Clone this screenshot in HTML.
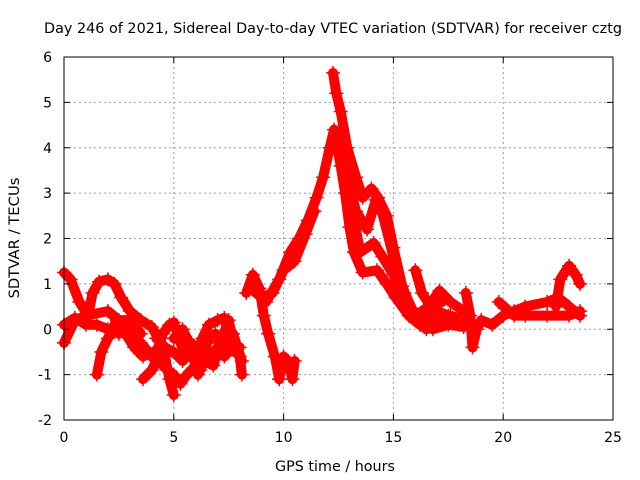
<!DOCTYPE html>
<html><head><meta charset="utf-8"><style>
body{margin:0;background:#fff}
svg{display:block;font-family:"DejaVu Sans","Liberation Sans",sans-serif;font-size:14px}
</style></head><body>
<svg id="chart" width="640" height="480">
<rect width="640" height="480" fill="#fff"/>
<g id="grid"></g>
<g id="marks"></g>
<g id="axes"></g>
<text x="333" y="33" text-anchor="middle" textLength="578" lengthAdjust="spacingAndGlyphs">Day 246 of 2021, Sidereal Day-to-day VTEC variation (SDTVAR) for receiver cztg</text>
<text x="335" y="471" text-anchor="middle" textLength="120" lengthAdjust="spacingAndGlyphs">GPS time / hours</text>
<text x="19" y="238" text-anchor="middle" textLength="121" lengthAdjust="spacingAndGlyphs" transform="rotate(-90 19 238)">SDTVAR / TECUs</text>
</svg>
<script>
const xTicks=[0,5,10,15,20,25];
const yTicks=[-2,-1,0,1,2,3,4,5,6];
const traceA=[[0,1.25],[0.3,1.1],[0.7,0.6],[1.1,0.3],[1.3,0.8],[1.6,1.05],[2,1.1],[2.3,1.0],[2.6,0.7],[3,0.4],[3.5,0.2],[4,0.05],[4.3,-0.2],[4.6,-0.6],[4.8,-1.1],[5,-1.45]];
const traceB=[[0,0.1],[0.5,0.25],[1,0.1],[1.5,0.1],[2,0.0],[2.5,-0.1],[3,0.05],[3.3,-0.3],[3.6,-0.5],[4,-0.6],[4.5,-0.8]];
const traceC=[[0,-0.3],[0.5,0.2],[1,0.3],[2,0.4],[2.5,0.2],[3,0.2],[3.5,-0.1]];
const traceD=[[1.5,-1.0],[1.7,-0.5],[2,-0.2],[2.4,0.2],[2.8,-0.1],[3.2,-0.4],[3.6,-0.6]];
const traceE=[[3.5,-0.3],[4,-0.6],[4.3,-0.4],[4.5,-0.1],[4.8,0.1],[5,0.15],[5.3,-0.3],[5.6,-0.6],[6,-0.6],[6.3,-0.2],[6.6,0.1],[7,0.2],[7.3,0.25],[7.6,-0.3],[8,-0.6],[8.1,-1.0]];
const traceF=[[3.6,-1.1],[4,-0.9],[4.4,-0.5],[4.7,-0.9],[5,-1.0],[5.3,-1.2],[5.6,-1.0],[6,-0.8],[6.3,-0.5],[6.6,-0.6],[7,-0.4],[7.5,-0.5],[8,-0.4]];
const traceF2=[[4.2,-0.2],[4.6,-0.4],[5,-0.5],[5.4,-0.7],[5.8,-0.3],[6.2,-0.9],[6.5,-0.3],[6.9,-0.1],[7.3,-0.6],[7.7,-0.1],[8.1,-0.7]];
const traceF3=[[5.0,-0.2],[5.4,0.0],[5.7,-0.3],[6.1,-1.0],[6.4,-0.7],[6.8,-0.8],[7.2,-0.2],[7.5,0.2],[7.8,-0.5]];
const traceG=[[8.3,0.8],[8.6,1.2],[8.9,0.9],[9.1,0.3],[9.3,-0.1],[9.6,-0.6],[9.8,-1.1]];
const traceH=[[9.8,-1.1],[10,-0.6],[10.2,-0.7],[10.4,-1.1],[10.5,-0.7]];
const traceI=[[9.2,0.6],[9.8,1.1],[10.3,1.7],[10.7,2.0],[11.1,2.4],[11.5,2.9],[11.8,3.35],[12.1,4.0],[12.3,4.4],[12.6,3.6],[12.8,3.0],[13.0,2.25],[13.2,1.7],[13.6,1.25],[14.25,1.3],[14.7,1.0],[15.1,0.7],[15.7,0.3],[16.2,0.1],[16.8,0.0],[17.5,0.1],[18.2,0.05]];
const traceI2=[[8.5,0.9],[9.0,0.7],[9.5,0.8],[10.0,1.3],[10.5,1.5],[11,2.1],[11.4,2.6]];
const traceJ=[[12.25,5.65],[12.4,5.2],[12.6,4.8],[12.9,4.0],[13.3,3.35],[13.6,2.9],[14.0,3.1],[14.3,2.9],[14.7,2.5],[15.0,1.8],[15.4,0.95],[15.9,0.35],[16.3,0.2],[17,0.4],[17.5,0.3],[18,0.1],[18.5,0.1]];
const traceK=[[12.5,3.9],[12.9,3.2],[13.2,2.4],[13.5,1.7],[14.1,1.9],[14.5,1.6],[15,1.2],[15.5,0.6],[16,0.2],[16.5,0.0],[17,0.15],[17.6,0.3],[18.2,0.2]];
const traceL=[[12.8,3.5],[13.3,2.6],[13.8,2.2],[14.2,2.85],[14.5,2.55],[15,1.6],[15.5,0.8],[16,0.3],[16.6,0.5],[17.1,0.85],[17.6,0.6],[18.2,0.4]];
const traceM=[[16.0,1.3],[16.3,0.8],[16.7,0.5],[17.2,0.6]];
const traceN=[[18.3,0.8],[18.5,0.3],[18.6,-0.4],[18.8,0.0],[19,0.2],[19.5,0.1],[20,0.3],[20.5,0.4],[21,0.5],[22,0.6],[22.5,0.7],[23,0.5],[23.5,0.3]];
const traceO=[[19.8,0.6],[20.5,0.3],[21,0.3],[22,0.3],[23,0.3],[23.5,0.4]];
const traceP=[[22.4,0.5],[22.6,1.1],[23,1.4],[23.3,1.2],[23.5,1.0]];
const traces=[traceA,traceB,traceC,traceD,traceE,traceF,traceF2,traceF3,traceG,traceH,traceI,traceI2,traceJ,traceK,traceL,traceM,traceN,traceO,traceP];

const X0=64,X1=613,Y0=420,Y1=57,xmin=0,xmax=25,ymin=-2,ymax=6;
const sx=v=>X0+(v-xmin)/(xmax-xmin)*(X1-X0);
const sy=v=>Y0-(v-ymin)/(ymax-ymin)*(Y0-Y1);
const NS="http://www.w3.org/2000/svg";
function mk(tag,attrs,parent){const e=document.createElementNS(NS,tag);for(const k in attrs)e.setAttribute(k,attrs[k]);parent.appendChild(e);return e;}
const grid=document.getElementById('grid'),axes=document.getElementById('axes'),marks=document.getElementById('marks');
xTicks.forEach(t=>{
  const x=sx(t);
  if(t>xmin&&t<xmax){const g=mk('line',{x1:x,x2:x,y1:Y1,y2:Y0,stroke:'#a0a0a0','stroke-dasharray':'2,3'},grid);
  
  }
  mk('line',{x1:x,x2:x,y1:Y0,y2:Y0-6,stroke:'#000'},axes);
  mk('line',{x1:x,x2:x,y1:Y1,y2:Y1+6,stroke:'#000'},axes);
  const l=mk('text',{x:x,y:Y0+22,'text-anchor':'middle'},axes);l.textContent=t;
  
  
});
yTicks.forEach(t=>{
  const y=sy(t);
  if(t>ymin&&t<ymax){const g=mk('line',{x1:X0,x2:X1,y1:y,y2:y,stroke:'#a0a0a0','stroke-dasharray':'2,3'},grid);
  
  }
  mk('line',{x1:X0,x2:X0+6,y1:y,y2:y,stroke:'#000'},axes);
  mk('line',{x1:X1,x2:X1-6,y1:y,y2:y,stroke:'#000'},axes);
  const l=mk('text',{x:X0-12,y:y+5,'text-anchor':'end'},axes);l.textContent=t;
  
  
});
const b=mk('rect',{x:X0,y:Y1,width:X1-X0,height:Y0-Y1,fill:'none',stroke:'#000'},axes);


traces.forEach(tr=>{
  const p=mk('polyline',{points:tr.map(d=>sx(d[0])+','+sy(d[1])).join(' '),fill:'none',stroke:'#f00','stroke-width':10,'stroke-linejoin':'round','stroke-linecap':'round'},marks);
  
  
  tr.forEach(d=>{
    const x=sx(d[0]),y=sy(d[1]);
    const m=mk('path',{d:`M${x-7},${y}H${x+7}M${x},${y-7}V${y+7}`,stroke:'#f00','stroke-width':1.5},marks);
    
    
  });
});
</script>
</body></html>
